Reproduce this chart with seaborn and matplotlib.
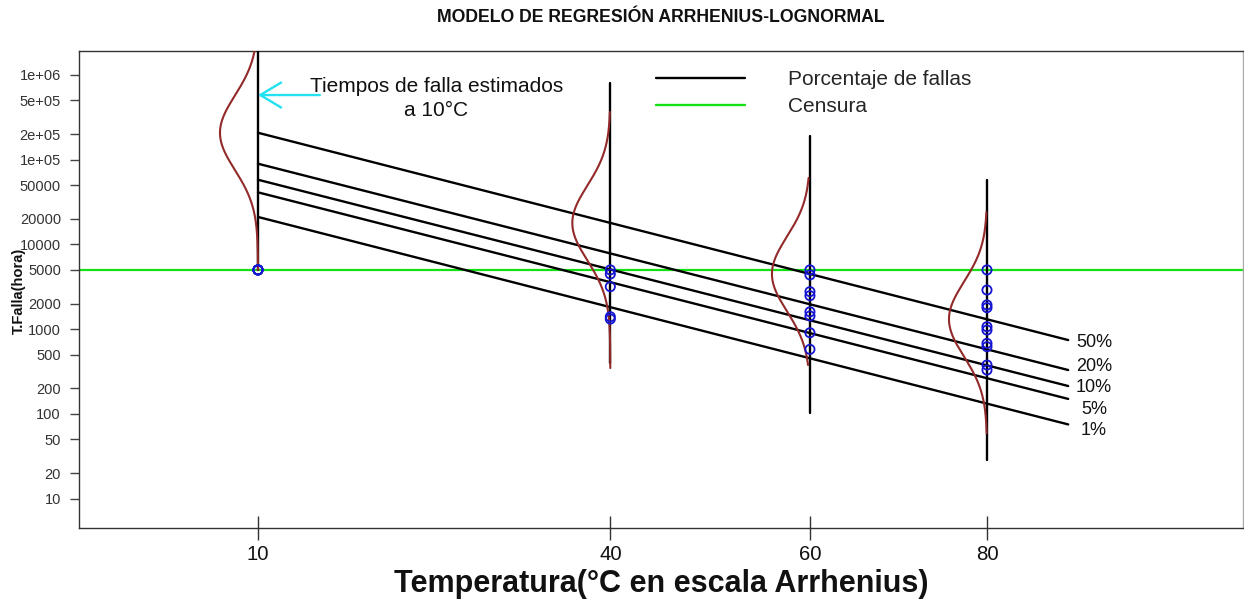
import numpy as np
import pandas as pd
import matplotlib
matplotlib.use("Agg")
import matplotlib.pyplot as plt
import seaborn as sns
from matplotlib.lines import Line2D

# ---------------- data ----------------
K_EV = 11604.5  # Arrhenius scale: 11604.5/(T+273.15)

tick_temps = [10, 40, 60, 80]
tick_labels = ["10", "40", "60", "80"]

pct_names = ["1%", "5%", "10%", "20%", "50%"]
line_temps = [10, 90]
q_at_10c = [21100, 41200, 58000, 89700, 208000]
q_at_90c = [75, 150, 213, 329, 743]
pct_label_temp = 93.3
pct_label_hours = [64, 114, 202, 366, 686]

obs_temp = [10, 10, 10, 10, 10,
            40, 40, 40, 40, 40,
            60, 60, 60, 60, 60, 60, 60, 60,
            80, 80, 80, 80, 80, 80, 80, 80, 80, 80]
obs_hours = [5000, 5000, 5000, 5000, 5000,
             5000, 4470, 3170, 1400, 1316,
             5000, 4360, 2770, 2480, 1600, 1430, 906, 577,
             5000, 2895, 1930, 1790, 1067, 975, 679, 620, 377, 329]

censor_hours = 5000

vline_temps = [10, 40, 60, 80]
vline_top = [1e7, 8.05e5, 1.9e5, 5.75e4]
vline_bottom = [5000, 400, 102, 28.5]

dens_median = [2.08e5, 1.79e4, 4.48e3, 1.31e3]
dens_sigma_log10 = 0.44
dens_top = [1e7, 3.66e5, 6.1e4, 2.4e4]
dens_bottom = [5000, 347, 377, 59]

arrow_temp_start = 14.85
arrow_temp_end = 10
arrow_hours = 5.8e5
annot_temp = 24.45
annot_hours = 5.3e5

y_ticks = [10, 20, 50, 100, 200, 500, 1000, 2000, 5000, 10000, 20000,
           50000, 1e5, 2e5, 5e5, 1e6]
y_tick_labels = ["10", "20", "50", "100", "200", "500", "1000", "2000",
                 "5000", "10000", "20000", "50000", "1e+05", "2e+05",
                 "5e+05", "1e+06"]


def arr(t):
    return K_EV / (np.asarray(t, dtype=float) + 273.15)


# ---------------- style ----------------
sns.set_style("ticks")
plt.rcParams["font.family"] = ["Liberation Sans", "DejaVu Sans"]

W, H = 1244, 607
fig = plt.figure(figsize=(W / 100, H / 100), dpi=100)
ax = fig.add_axes([79 / W, 1 - 528 / H, (1243 - 79) / W, (528 - 51) / H])

BROWN = "#922A2A"
GREEN = "#14E014"
BLUE = "#1414D2"
CYAN = "#22E2F2"

# percentile lines
rows = []
for name, a, b in zip(pct_names, q_at_10c, q_at_90c):
    rows.append({"pct": name, "x": float(arr(line_temps[0])), "h": a})
    rows.append({"pct": name, "x": float(arr(line_temps[1])), "h": b})
df_lines = pd.DataFrame(rows)
sns.lineplot(data=df_lines, x="x", y="h", units="pct", estimator=None,
             color="black", lw=1.7, ax=ax, legend=False, zorder=3)

# vertical black lines at each test temperature
for t, top, bot in zip(vline_temps, vline_top, vline_bottom):
    ax.plot([arr(t), arr(t)], [bot, top], color="black", lw=1.7, zorder=3)

# censoring line
ax.axhline(censor_hours, color=GREEN, lw=1.6, zorder=2)

# lognormal density curves (in log10 time) drawn left of each vertical line
amp = 38 / 89.74
for t, med, top, bot in zip(vline_temps, dens_median, dens_top, dens_bottom):
    ly = np.linspace(np.log10(bot), np.log10(top), 400)
    z = (ly - np.log10(med)) / dens_sigma_log10
    xs = arr(t) + amp * np.exp(-0.5 * z ** 2)
    sns.lineplot(x=xs, y=10 ** ly, sort=False, estimator=None,
                 color=BROWN, lw=1.5, ax=ax, zorder=4)

# observations
df_obs = pd.DataFrame({"x": arr(obs_temp), "h": obs_hours})
sns.scatterplot(data=df_obs, x="x", y="h", marker="o", s=44,
                facecolors="none", edgecolors=BLUE, linewidths=1.3,
                ax=ax, zorder=5)

# percentile labels
for name, h in zip(pct_names, pct_label_hours):
    ax.text(arr(pct_label_temp), h, name, ha="center", va="center",
            fontsize=13, color="#111111")

# arrow + annotation
ax.annotate("", xy=(arr(arrow_temp_end), arrow_hours),
            xytext=(arr(arrow_temp_start), arrow_hours),
            arrowprops=dict(arrowstyle="->,head_length=1.0,head_width=0.6",
                            color=CYAN, lw=1.7, mutation_scale=15,
                            shrinkA=0, shrinkB=0), zorder=6)
ax.text(arr(annot_temp), annot_hours, "Tiempos de falla estimados\na 10°C",
        ha="center", va="center", fontsize=15, linespacing=1.35,
        color="#111111")

# legend
handles = [Line2D([], [], color="black", lw=1.7),
           Line2D([], [], color=GREEN, lw=1.7)]
ax.legend(handles, ["Porcentaje de fallas", "Censura"], loc="upper left",
          bbox_to_anchor=(656 / W, 1 - 70 / H), bbox_transform=fig.transFigure,
          frameon=False, borderpad=0, borderaxespad=0, handlelength=4.28,
          handletextpad=2.07, labelspacing=0.38, fontsize=15)

# axes
ax.set_yscale("log")
ax.set_xlim(42.978, 30.007)
ax.set_ylim(4.49, 1.92e6)
ax.set_yticks(y_ticks)
ax.set_yticklabels(y_tick_labels)
ax.yaxis.set_minor_locator(matplotlib.ticker.NullLocator())
ax.set_xticks(arr(tick_temps))
ax.set_xticklabels(tick_labels)
ax.tick_params(axis="y", direction="out", length=6.5, width=1,
               color="#444444", labelsize=10.5, labelcolor="#333333", pad=6.5)
ax.tick_params(axis="x", direction="inout", length=17, width=1,
               color="#333333", labelsize=14.7, labelcolor="#111111", pad=4)
for sp in ax.spines.values():
    sp.set_visible(True)
    sp.set_color("#333333")
    sp.set_linewidth(1.0)
ax.spines["right"].set_color("#aaaaaa")

ax.set_title("MODELO DE REGRESIÓN ARRHENIUS-LOGNORMAL", fontsize=12.7,
             fontweight="bold", pad=21, color="#111111")
ax.set_xlabel("Temperatura(°C en escala Arrhenius)", fontsize=22,
              fontweight="bold", color="#111111")
ax.xaxis.set_label_coords(0.5, -0.086)
ax.set_ylabel("T.Falla(hora)", fontsize=10.6, fontweight="bold",
              color="#111111")
ax.yaxis.label.set_va("center")
ax.yaxis.set_label_coords(-60 / 1164, 0.497)

fig.savefig("out.png", dpi=100)
